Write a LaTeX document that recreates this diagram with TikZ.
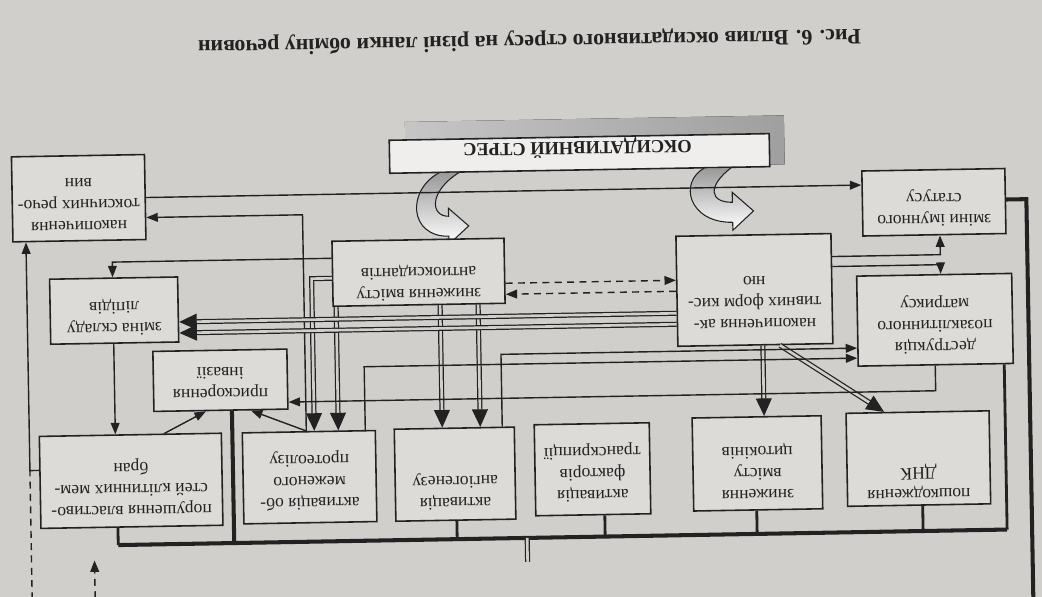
\documentclass[tikz,border=0pt]{standalone}
\usepackage{fontspec}
\setmainfont{Liberation Serif}
\usetikzlibrary{arrows.meta}
\definecolor{paper}{RGB}{208,207,203}
\definecolor{ink}{RGB}{34,34,34}
\tikzset{
 box/.style={draw=ink, line width=0.9pt, fill=paper!75!white, inner sep=0},
 bx/.style 2 args={minimum width=#1*0.02cm, minimum height=#2*0.02cm},
 txt/.style={rotate=180, align=center, font=\fontsize{10}{12.2}\selectfont, inner sep=0, text=ink},
 ln/.style={draw=ink, line width=0.8pt},
 arr/.style={ln, -{Triangle[length=6.5pt,width=5pt]}},
 dbl/.style={draw=ink, line width=0.7pt, double=paper, double distance=1.5pt},
 darr/.style={dbl, -{Triangle[length=10pt,width=9pt]}},
 bus/.style={draw=ink, line width=2.3pt},
 mid/.style={draw=ink, line width=1.6pt},
 dsh/.style={ln, dash pattern=on 4pt off 3pt},
 curvearrow/.style={draw=ink, line width=0.6pt, top color=gray!80, bottom color=white},
}
\begin{document}
\begin{tikzpicture}[x=0.02cm, y=-0.02cm]
\fill[paper] (0,0) rectangle (1042,597);
\useasboundingbox (0,0) rectangle (1042,597);
\begin{scope}[transform canvas={rotate around={1:(521,298)}}]
% caption
\node[rotate=180, inner sep=0, text=ink, font=\bfseries\fontsize{12.5}{14}\selectfont] (cap) at (534,41) {Рис. 6. Вплив оксидативного стресу на різні ланки обміну речовин};
% stress box
\fill[left color=gray!45, right color=gray!75] (408,120) rectangle (787,169);
\node[box, bx={380}{33}, fill=paper!35!white] (S) at (582,154.5) {};
\node[rotate=180, inner sep=0, text=ink, font=\bfseries\fontsize{10.5}{12}\selectfont] at (580,149) {ОКСИДАТИВНИЙ СТРЕС};
% curved arrows
\path[curvearrow] (442,171) .. controls (408,188) and (410,235) .. (450,235) -- (450,243) -- (470,225) -- (450,207) -- (450,215) .. controls (432,215) and (430,190) .. (462,171) -- cycle;
\path[curvearrow] (707,171) .. controls (680,185) and (690,226) .. (734,226) -- (734,234) -- (755,215) -- (734,196) -- (734,206) .. controls (712,206) and (708,190) .. (734,171) -- cycle;
% boxes
\node[box, bx={133}{85}] (A) at (80.5,190.5) {};
\node[txt] at (80.5,196.5) {накопичення\\токсичних речо-\\вин};
\node[box, bx={143}{65}] (B) at (935.5,209.5) {};
\node[txt] at (935.5,215.5) {зміни імунного\\статусу};
\node[box, bx={172}{65}] (C) at (419,270.5) {};
\node[txt] at (419,281) {зниження вмісту\\антиоксидантів};
\node[box, bx={155}{110}] (D) at (754.5,294) {};
\node[txt] at (754.5,306) {накопичення ак-\\тивних форм кис-\\ню};
\node[box, bx={128}{65}] (E) at (114,303.5) {};
\node[txt] at (114,310) {зміна складу\\ліпідів};
\node[box, bx={155}{90}] (F) at (934.5,327) {};
\node[txt] at (934.5,332) {деструкція\\позаклітинного\\матриксу};
\node[box, bx={134}{60}] (G) at (219,375) {};
\node[txt] at (219,377) {прискорення\\інвазії};
\node[box, bx={182}{92}] (H) at (128,474) {};
\node[txt] at (128,480) {порушення властиво-\\стей клітинних мем-\\бран};
\node[box, bx={133}{91}] (I) at (306.5,473.5) {};
\node[txt] at (306.5,477.5) {активація об-\\меженого\\протеолізу};
\node[box, bx={120}{92}] (J) at (452,473) {};
\node[txt] at (452,490) {активація\\ангіогенезу};
\node[box, bx={115}{91}] (K) at (589.5,470.5) {};
\node[txt] at (589.5,474) {активація\\факторів\\транскрипції};
\node[box, bx={129}{93}] (L) at (754.5,467.5) {};
\node[txt] at (754.5,475) {зниження\\вмісту\\цитокінів};
\node[box, bx={143}{93}] (M) at (915.5,465.5) {};
\node[txt] at (915.5,488) {пошкодження\\ДНК};
% connectors
\draw[arr] (A.east |- 0,191) -- (B.west |- 0,191);
\draw[arr] (304,0 |- I.north) -- (304,211) -- (A.east |- 0,211);
\draw[arr] (C.west |- 0,255) -- (113,255) -- (113,0 |- E.north);
\draw[darr] (C.west |- 0,275) -- (312,275) -- (312,0 |- I.north);
\draw[darr] (336,0 |- C.south) -- (336,0 |- I.north);
\draw[darr] (440,0 |- C.south) -- (440,0 |- J.north);
\draw[darr] (478,0 |- C.south) -- (478,0 |- J.north);
\draw[dsh, -{Triangle[length=6.5pt,width=5pt]}] (C.east |- 0,283) -- (D.west |- 0,283);
\draw[dsh, -{Triangle[length=6.5pt,width=5pt]}] (D.west |- 0,294) -- (C.east |- 0,294);
\draw[darr] (D.west |- 0,316) -- (E.east |- 0,316);
\draw[darr] (D.west |- 0,327) -- (E.east |- 0,327);
\draw[darr] (762,0 |- D.south) -- (762,0 |- L.north);
\draw[darr] (779,0 |- D.south) -- (882,0 |- M.north);
\draw[arr] (D.east |- 0,262) -- (941,262) -- (941,0 |- B.south);
\draw[arr] (D.east |- 0,272) -- (941,272) -- (941,0 |- F.north);
\draw[arr] (113,0 |- E.south) -- (113,0 |- H.north);
\draw[arr] (162,0 |- H.north) -- (204,0 |- G.south);
\draw[arr] (304,0 |- I.north) -- (249,0 |- G.south);
\draw[arr] (363,0 |- I.north) -- (363,364) -- (F.west |- 0,364);
\draw[arr] (500,0 |- J.north) -- (500,354) -- (F.west |- 0,354);
\draw[arr] (934,0 |- F.south) -- (934,398) -- (G.east |- 0,398);
% bus and drops
\coordinate (busL) at (114,538);
\coordinate (busR) at (1003,538);
\draw[bus] (busL) -- (busR);
\draw[bus] (230,0 |- G.south) -- (230,538);
\draw[mid] (114,0 |- H.south) -- (busL);
\draw[mid] (453,0 |- J.south) -- (453,538);
\draw[mid] (601,0 |- K.south) -- (601,538);
\draw[mid] (753,0 |- L.south) -- (753,538);
\draw[mid] (919,0 |- M.south) -- (919,538);
\draw[mid] (1003,0 |- F.south) -- (busR);
\draw[bus] (B.east |- 0,208) -- (1028,208) -- (1028,640);
\draw[dbl] (523,538) -- (523,562);
% left side
\draw[arr] (H.west |- 0,462) -- (27,462) -- (27,0 |- A.south);
\draw[dsh] (27,640) -- (27,462);
\draw[dsh, -{Triangle[length=6.5pt,width=5pt]}] (90,640) -- (90,553);
\end{scope}
\end{tikzpicture}
\end{document}
